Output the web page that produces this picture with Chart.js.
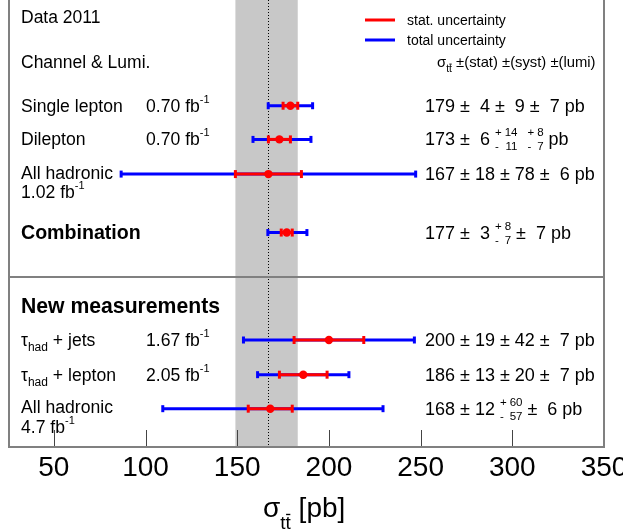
<!DOCTYPE html>
<html><head><meta charset="utf-8">
<script src="https://cdn.jsdelivr.net/npm/chart.js@4/dist/chart.umd.min.js"></script>
<style>html,body{margin:0;padding:0;background:#fff}canvas{display:block}</style>
</head><body>
<canvas id="c" width="623" height="532"></canvas>
<script>
// ---------------- data ----------------
const channels   = ['Single lepton','Dilepton','All hadronic','Combination','τhad + jets','τhad + lepton','All hadronic'];
const lumis      = ['0.70','0.70','1.02','','1.67','2.05','4.7'];
const central    = [179,173,167,177,200,186,168];
const statUnc    = [4,6,18,3,19,13,12];
const systUp     = [9,14,78,8,42,20,60];
const systDown   = [9,11,78,7,42,20,57];
const lumiUnc    = [7,7,6,7,7,7,6];
const totalUp    = [12.1,17.2,80.3,11.0,46.6,24.9,61.5];
const totalDown  = [12.1,14.4,80.3,10.3,46.6,24.9,58.6];
const theoryCentral = 167;
const theoryLow  = 149;
const theoryHigh = 183;
const xTicks     = [50,100,150,200,250,300,350];
const headerTexts = ['Data 2011','Channel & Lumi.','New measurements'];
const legendLabels = ['stat. uncertainty','total uncertainty'];

// ---------------- layout (not data) ----------------
const rowPos   = [3.11,4.10,5.12,6.84,10.0,11.02,12.02];
const twoLine  = [false,false,true,false,false,false,true];
const boldRow  = [false,false,false,true,false,false,false];
const dividerPos = 8.14;
const FONT = '"Liberation Sans", Arial, Helvetica, sans-serif';
const RED = '#ff0000', BLUE = '#0000ff';

const datasets = [];
central.forEach((c,i)=>{
  const y = rowPos[i];
  datasets.push({label:'c'+i, data:[{x:c,y}], pointRadius:4.2, pointBackgroundColor:RED,
    pointBorderColor:RED, pointBorderWidth:0, order:0});
  datasets.push({label:'s'+i, showLine:true, data:[{x:c-statUnc[i],y},{x:c+statUnc[i],y}],
    borderColor:RED, borderWidth:3, pointStyle:'line', pointRotation:90, pointRadius:4,
    pointBorderColor:RED, pointBorderWidth:3, order:1});
  datasets.push({label:'t'+i, showLine:true, data:[{x:c-totalDown[i],y},{x:c+totalUp[i],y}],
    borderColor:BLUE, borderWidth:3, pointStyle:'line', pointRotation:90, pointRadius:3.5,
    pointBorderColor:BLUE, pointBorderWidth:3, order:2});
});

function rich(ctx, x, y, parts, base){
  let cx = x;
  for (const p of parts){
    if (p.stack){
      ctx.font = `${p.size}px ${FONT}`;
      const signW = Math.max(...p.stack.map(s=>ctx.measureText(s[0]).width));
      const numW = Math.max(...p.stack.map(s=>ctx.measureText(s[1]).width));
      const w = signW + 3 + numW;
      const ys = [y - p.up, y + p.down];
      p.stack.forEach((s,k)=>{
        ctx.textAlign='left'; ctx.fillText(s[0], cx, ys[k]);
        ctx.textAlign='right'; ctx.fillText(s[1], cx + w, ys[k]);
      });
      ctx.textAlign='left';
      cx += w;
    } else {
      const size = p.size || base;
      ctx.font = `${p.bold?'bold ':''}${size}px ${FONT}`;
      ctx.fillText(p.t, cx, y + (p.dy||0));
      const w = ctx.measureText(p.t).width;
      if (p.bar){
        const lw = Math.max(1, size/14);
        ctx.fillRect(cx + w*0.1, y + (p.dy||0) - size*0.80, w*0.8, lw);
      }
      cx += w;
    }
  }
  return cx;
}
const pad = n => (n < 10 ? ' ' + n : '' + n);

function channelParts(name){
  if (name.startsWith('τhad')) return [{t:'τ'},{t:'had',size:12,dy:5},{t:name.slice(4)}];
  return [{t:name}];
}

const deco = {
  id:'deco',
  beforeDatasetsDraw(chart){
    const {ctx, chartArea:a, scales:{x,y}} = chart;
    ctx.save();
    ctx.fillStyle = '#c8c8c8';
    const x0 = x.getPixelForValue(theoryLow), x1 = x.getPixelForValue(theoryHigh);
    ctx.fillRect(x0, a.top, x1-x0, a.bottom-a.top);
    ctx.strokeStyle = '#000'; ctx.lineWidth = 1; ctx.setLineDash([1,2]);
    const xc = Math.round(x.getPixelForValue(theoryCentral)) + 0.5;
    ctx.beginPath(); ctx.moveTo(xc, a.top); ctx.lineTo(xc, a.bottom); ctx.stroke();
    ctx.setLineDash([]);
    // ticks (inside)
    ctx.strokeStyle = '#444'; ctx.lineWidth = 1;
    x.ticks.forEach(t=>{
      const px = Math.round(x.getPixelForValue(t.value)) + 0.5;
      ctx.beginPath(); ctx.moveTo(px, a.bottom); ctx.lineTo(px, a.bottom-17); ctx.stroke();
    });
    // frame
    ctx.strokeStyle = '#808080'; ctx.lineWidth = 2;
    const yd = Math.round(y.getPixelForValue(dividerPos));
    ctx.beginPath();
    ctx.moveTo(a.left+1, a.top); ctx.lineTo(a.left+1, a.bottom);
    ctx.moveTo(a.right, a.top); ctx.lineTo(a.right, a.bottom);
    ctx.moveTo(a.left, a.bottom); ctx.lineTo(a.right+1, a.bottom);
    ctx.moveTo(a.left, yd); ctx.lineTo(a.right+1, yd);
    ctx.stroke();
    ctx.restore();
  },
  afterDraw(chart){
    const {ctx, chartArea:a, scales:{x,y}} = chart;
    ctx.save();
    ctx.fillStyle = '#000'; ctx.textAlign = 'left'; ctx.textBaseline = 'alphabetic';
    const L = 21, LUMX = 146, RX = 425;
    rich(ctx, L, 23, [{t:headerTexts[0]}], 17.5);
    rich(ctx, L, 68, [{t:headerTexts[1]}], 17.5);
    rich(ctx, L, 313, [{t:headerTexts[2], bold:true}], 21.2);
    // legend
    ctx.lineWidth = 3;
    [[RED,20],[BLUE,40]].forEach(([col,yy],k)=>{
      ctx.strokeStyle = col; ctx.beginPath(); ctx.moveTo(365,yy); ctx.lineTo(395,yy); ctx.stroke();
      ctx.fillStyle = '#000';
      rich(ctx, 407, yy+5, [{t:legendLabels[k]}], 14);
    });
    rich(ctx, 437, 67, [{t:'σ'},{t:'t',size:10.5,dy:5},{t:'t',size:10.5,dy:5,bar:true},{t:' ±(stat) ±(syst) ±(lumi)'}], 14.8);
    // rows
    channels.forEach((name,i)=>{
      const py = y.getPixelForValue(rowPos[i]);
      if (boldRow[i]) {
        rich(ctx, L, py+6, [{t:name, bold:true}], 19.6);
      } else if (twoLine[i]) {
        rich(ctx, L, py+4.5, channelParts(name), 17.6);
        rich(ctx, L, py+24, [{t:lumis[i]+' fb'},{t:'-1',size:11,dy:-9}], 17.6);
      } else {
        rich(ctx, L, py+6, channelParts(name), 17.6);
        rich(ctx, LUMX, py+6, [{t:lumis[i]+' fb'},{t:'-1',size:11,dy:-9}], 17.6);
      }
      const parts = [{t:`${central[i]} ± ${pad(statUnc[i])} `}];
      if (systUp[i] === systDown[i]) {
        parts[0].t += `± ${pad(systUp[i])} ±  ${lumiUnc[i]} pb`;
      } else {
        parts.push({stack:[['+',String(systUp[i])],['-',String(systDown[i])]], size:11.5, up:9, down:5});
        if (i === 1) {
          parts.push({t:'  '});
          parts.push({stack:[['+',String(lumiUnc[i]+1)],['-',String(lumiUnc[i])]], size:11.5, up:9, down:5});
          parts.push({t:' pb'});
        } else {
          parts.push({t:` ±  ${lumiUnc[i]} pb`});
        }
      }
      rich(ctx, RX, py+6, parts, 18);
    });
    // axis title
    rich(ctx, 263, 517, [{t:'σ'},{t:'t',size:19,dy:12},{t:'t',size:19,dy:12,bar:true},{t:' [pb]'}], 28);
    ctx.restore();
  }
};

new Chart(document.getElementById('c'), {
  type:'scatter',
  data:{datasets},
  options:{
    responsive:false, animation:false, devicePixelRatio:1, events:[],
    layout:{autoPadding:false, padding:{left:8, right:19, top:0, bottom:0}},
    plugins:{legend:{display:false}, tooltip:{enabled:false}},
    scales:{
      x:{type:'linear', min:25, max:350,
        afterBuildTicks:(s)=>{ s.ticks = xTicks.map(v=>({value:v})); },
        afterFit:(s)=>{ s.height = 85; s.paddingLeft = 0; s.paddingRight = 0; },
        grid:{display:false}, border:{display:false},
        ticks:{font:{family:FONT, size:28}, color:'#000', padding:-4, maxRotation:0, autoSkip:false}
      },
      y:{type:'linear', display:false, min:0, max:447/34, reverse:true}
    }
  },
  plugins:[deco]
});
</script>
</body></html>
